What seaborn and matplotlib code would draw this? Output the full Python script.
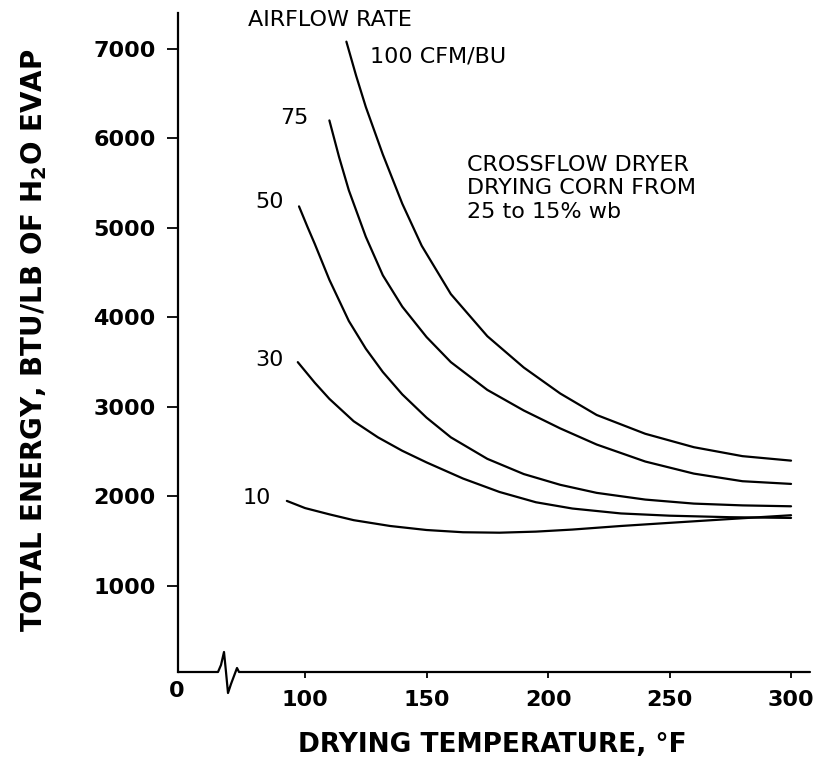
import matplotlib
matplotlib.use("Agg")
import matplotlib.pyplot as plt
import seaborn as sns
import pandas as pd

# Drying temperature (F) and total energy (BTU/lb H2O evap)
temp_100 = [117, 121, 125, 132, 140, 148, 160, 175, 190, 205, 220, 240, 260, 280, 300]
energy_100 = [7080, 6700, 6350, 5820, 5270, 4800, 4260, 3790, 3440, 3150, 2910, 2700, 2550, 2450, 2400]

temp_75 = [110, 114, 118, 125, 132, 140, 150, 160, 175, 190, 205, 220, 240, 260, 280, 300]
energy_75 = [6200, 5790, 5420, 4900, 4470, 4120, 3780, 3500, 3190, 2960, 2760, 2580, 2390, 2255, 2170, 2140]

temp_50 = [97.5, 101, 104, 110, 118, 125, 132, 140, 150, 160, 175, 190, 205, 220, 240, 260, 280, 300]
energy_50 = [5240, 5010, 4820, 4420, 3960, 3650, 3390, 3140, 2880, 2660, 2420, 2250, 2130, 2040, 1965, 1920, 1900, 1890]

temp_30 = [97, 104, 110, 120, 130, 140, 150, 165, 180, 195, 210, 230, 250, 275, 300]
energy_30 = [3500, 3270, 3090, 2840, 2660, 2510, 2380, 2200, 2050, 1935, 1865, 1810, 1785, 1768, 1760]

temp_10 = [92.5, 100, 110, 120, 135, 150, 165, 180, 195, 210, 230, 250, 275, 300]
energy_10 = [1950, 1870, 1800, 1735, 1670, 1625, 1600, 1595, 1607, 1630, 1670, 1705, 1748, 1790]

airflow_labels = ["100 CFM/BU", "75", "50", "30", "10"]
x_ticks = [100, 150, 200, 250, 300]
y_ticks = [1000, 2000, 3000, 4000, 5000, 6000, 7000]

curves = [(temp_100, energy_100), (temp_75, energy_75), (temp_50, energy_50),
          (temp_30, energy_30), (temp_10, energy_10)]

sns.set_style("ticks")
plt.rcParams["font.family"] = ["DejaVu Sans"]
plt.rcParams["text.color"] = "black"
plt.rcParams["xtick.color"] = "black"
plt.rcParams["ytick.color"] = "black"
plt.rcParams["axes.edgecolor"] = "black"

W, H = 819, 759
fig = plt.figure(figsize=(W / 100, H / 100), dpi=100)
ax = fig.add_axes([178 / W, 87 / H, 632 / W, 659 / H])

for t, e in curves:
    df = pd.DataFrame({"temp": t, "energy": e})
    sns.lineplot(data=df, x="temp", y="energy", color="black", linewidth=1.6,
                 estimator=None, sort=False, ax=ax)

x_left, x_right = 47.7, 307.8
ax.set_xlim(x_left, x_right)
ax.set_ylim(39, 7400)
ax.set_xlabel("")
ax.set_ylabel("")

ax.set_xticks(x_ticks)
ax.set_xticklabels([str(v) for v in x_ticks], fontsize=16, fontweight="bold")
ax.set_yticks(y_ticks)
ax.set_yticklabels([str(v) for v in y_ticks], fontsize=16, fontweight="bold")
ax.tick_params(axis="y", direction="out", length=8, width=1.3, pad=8)
ax.tick_params(axis="x", direction="out", length=4, width=1.3, pad=9)

sns.despine(ax=ax)
ax.spines["left"].set_linewidth(1.6)
ax.spines["bottom"].set_visible(False)

# bottom axis with the break squiggle
pw, ph = 632, 659
bx = [178, 218, 221, 224, 226, 228, 231, 234, 237, 239, 810]
by = [672, 672, 665, 652, 672, 693, 684, 676, 668, 672, 672]
ax.plot([(p - 178) / pw for p in bx], [(672 - p) / ph for p in by],
        transform=ax.transAxes, color="black", linewidth=1.6, clip_on=False)

# origin label
fig.text(177 / W, 1 - 691 / H, "0", ha="center", va="center", fontsize=16, fontweight="bold")

# axis titles
fig.text(492 / W, 1 - 745 / H, "DRYING TEMPERATURE, °F", ha="center", va="center",
         fontsize=19, fontweight="bold")
fig.text(34 / W, 1 - 340 / H, r"TOTAL ENERGY, BTU/LB OF H$_\mathbf{2}$O EVAP",
         ha="center", va="center", rotation=90, fontsize=20, fontweight="bold")

# curve labels
fig.text(248 / W, 1 - 20 / H, "AIRFLOW RATE", ha="left", va="center", fontsize=16)
label_pos = [(370, 57), (280, 118), (255, 202), (255, 360), (243, 498)]
for lab, (px, py) in zip(airflow_labels, label_pos):
    fig.text(px / W, 1 - py / H, lab, ha="left", va="center", fontsize=16)

note = ["CROSSFLOW DRYER", "DRYING CORN FROM", "25 to 15% wb"]
for i, line in enumerate(note):
    fig.text(467 / W, 1 - (165 + 23.5 * i) / H, line, ha="left", va="center", fontsize=16)

fig.savefig("out.png", dpi=100)
